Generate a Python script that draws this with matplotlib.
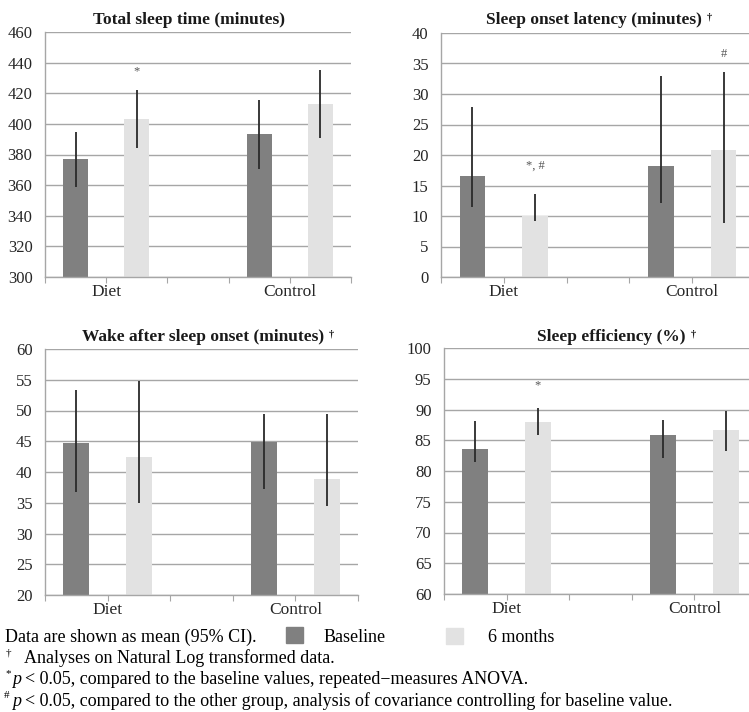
import matplotlib
matplotlib.use("Agg")
import matplotlib.pyplot as plt
from matplotlib.patches import Rectangle

plt.rcParams["font.family"] = ["Liberation Serif", "DejaVu Serif"]

W, H = 749, 712

# category slots: Diet baseline, Diet 6 months, (gap), Control baseline, Control 6 months
groups = ["Diet", "Control"]
baseline_pos = [0, 3]
month6_pos = [1, 4]

# Total sleep time (minutes)
tst_base = [377, 393.4]
tst_base_lo = [359, 370.8]
tst_base_hi = [395, 415.9]
tst_6m = [403, 412.9]
tst_6m_lo = [384, 390.5]
tst_6m_hi = [422.4, 435]
tst_marks = ["*", ""]

# Sleep onset latency (minutes)
sol_base = [16.6, 18.2]
sol_base_lo = [11.4, 12.2]
sol_base_hi = [27.8, 33.0]
sol_6m = [10.0, 20.8]
sol_6m_lo = [9.1, 8.8]
sol_6m_hi = [13.6, 33.6]
sol_marks = ["*, #", "#"]

# Wake after sleep onset (minutes)
waso_base = [44.7, 44.9]
waso_base_lo = [36.8, 37.3]
waso_base_hi = [53.3, 49.5]
waso_6m = [42.5, 38.9]
waso_6m_lo = [34.9, 34.5]
waso_6m_hi = [54.8, 49.5]
waso_marks = ["", ""]

# Sleep efficiency (%)
se_base = [83.5, 85.9]
se_base_lo = [81.5, 82.1]
se_base_hi = [88.1, 88.3]
se_6m = [88.0, 86.6]
se_6m_lo = [85.9, 83.3]
se_6m_hi = [90.2, 89.8]
se_marks = ["*", ""]

C_BASE = "#808080"
C_6M = "#e2e2e2"
C_GRID = "#a6a6a6"
C_ERR = "#2a2a2a"


def px_axes(fig, left, top, right, bottom):
    return fig.add_axes([left / W, 1 - bottom / H, (right - left) / W, (bottom - top) / H])


def panel(ax, base, blo, bhi, m6, mlo, mhi, marks, ylim, step, mark_y):
    ax.bar(baseline_pos, base, width=0.41, color=C_BASE, zorder=2)
    ax.bar(month6_pos, m6, width=0.41, color=C_6M, zorder=2)
    ax.vlines(baseline_pos, blo, bhi, color=C_ERR, lw=1.3, zorder=3)
    ax.vlines(month6_pos, mlo, mhi, color=C_ERR, lw=1.3, zorder=3)
    for x, m, y in zip(month6_pos, marks, mark_y):
        if m:
            ax.text(x, y, m, ha="center", va="center", fontsize=9, color="#555555")
    ax.set_xlim(-0.5, 4.5)
    ax.set_ylim(*ylim)
    ax.set_yticks(range(ylim[0], ylim[1] + 1, step))
    ax.set_xticks([-0.5, 0.5, 1.5, 2.5, 3.5, 4.5])
    ax.set_xticklabels(["", groups[0], "", "", groups[1], ""])
    ax.tick_params(axis="y", length=0, labelsize=12, labelcolor="#262626", pad=9)
    ax.tick_params(axis="x", length=4, color=C_GRID, labelsize=12.5, labelcolor="#262626", pad=1)
    ax.yaxis.grid(True, color=C_GRID, lw=1, zorder=0)
    ax.set_axisbelow(True)
    for s in ["top", "right"]:
        ax.spines[s].set_visible(False)
    for s in ["left", "bottom"]:
        ax.spines[s].set_color(C_GRID)
        ax.spines[s].set_linewidth(1)


fig = plt.figure(figsize=(W / 100, H / 100), dpi=100)

ax1 = px_axes(fig, 45, 32, 351, 277)
panel(ax1, tst_base, tst_base_lo, tst_base_hi, tst_6m, tst_6m_lo, tst_6m_hi,
      tst_marks, (300, 460), 20, [434, 0])

ax2 = px_axes(fig, 441, 33, 755, 277)
panel(ax2, sol_base, sol_base_lo, sol_base_hi, sol_6m, sol_6m_lo, sol_6m_hi,
      sol_marks, (0, 40), 5, [18.3, 36.6])

ax3 = px_axes(fig, 45, 349, 358, 595)
panel(ax3, waso_base, waso_base_lo, waso_base_hi, waso_6m, waso_6m_lo, waso_6m_hi,
      waso_marks, (20, 60), 5, [0, 0])

ax4 = px_axes(fig, 444, 348, 757, 594)
panel(ax4, se_base, se_base_lo, se_base_hi, se_6m, se_6m_lo, se_6m_hi,
      se_marks, (60, 100), 5, [93.9, 0])


# titles (figure pixel positions), dagger placed just after the title text
def title(x, y, s, dagger=False):
    t = fig.text(x / W, 1 - y / H, s, ha="left", va="center", fontsize=12.5,
                 fontweight="bold", color="#1a1a1a")
    if dagger:
        ax1.annotate("\u2020", xy=(1, 0.95), xycoords=t, xytext=(3.5, 0),
                     textcoords="offset points", ha="left", va="top",
                     fontsize=7.5, fontweight="bold", color="#1a1a1a",
                     annotation_clip=False)


title(93, 20, "Total sleep time (minutes)")
title(486, 20, "Sleep onset latency (minutes)", True)
title(82, 337, "Wake after sleep onset (minutes)", True)
title(537, 337, "Sleep efficiency (%)", True)

# legend row and footnotes
FS = 13
SUP = 8
fig.text(5 / W, 1 - 637 / H, "Data are shown as mean (95% CI).", fontsize=FS, va="center")
fig.add_artist(Rectangle((286 / W, 1 - 643 / H), 17 / W, 16 / H, color=C_BASE,
                         transform=fig.transFigure))
fig.text(324 / W, 1 - 637 / H, "Baseline", fontsize=FS, va="center")
fig.add_artist(Rectangle((446 / W, 1 - 644 / H), 17 / W, 16 / H, color=C_6M,
                         transform=fig.transFigure))
fig.text(488 / W, 1 - 637 / H, "6 months", fontsize=FS, va="center")

fig.text(6 / W, 1 - 653 / H, "\u2020", fontsize=SUP, va="center")
fig.text(24 / W, 1 - 658 / H, "Analyses on Natural Log transformed data.", fontsize=FS, va="center")
fig.text(5 / W, 1 - 674 / H, "*", fontsize=SUP, va="center")
fig.text(12 / W, 1 - 679 / H, "p", fontsize=FS, va="center", style="italic")
fig.text(25 / W, 1 - 679 / H, "< 0.05, compared to the baseline values, repeated\u2212measures ANOVA.",
         fontsize=FS, va="center")
fig.text(4 / W, 1 - 696 / H, "#", fontsize=SUP, va="center")
fig.text(12 / W, 1 - 701 / H, "p", fontsize=FS, va="center", style="italic")
fig.text(25 / W, 1 - 701 / H,
         "< 0.05, compared to the other group, analysis of covariance controlling for baseline value.",
         fontsize=FS, va="center")

fig.savefig("out.png", dpi=100)
